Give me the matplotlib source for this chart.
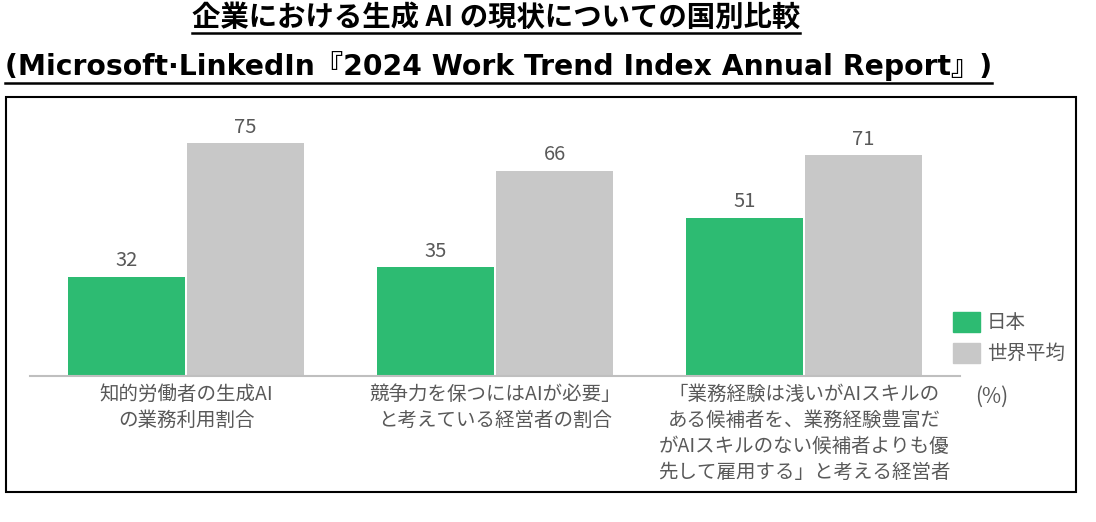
import numpy as np
import matplotlib
matplotlib.use("Agg")
import matplotlib.pyplot as plt
from matplotlib.patches import Rectangle
from matplotlib.lines import Line2D

plt.rcParams['font.family'] = ['Noto Sans CJK JP', 'DejaVu Sans']

# data
categories = ["知的労働者の生成AI\nの業務利用割合",
              "競争力を保つにはAIが必要」\nと考えている経営者の割合",
              "「業務経験は浅いがAIスキルの\nある候補者を、業務経験豊富だ\nがAIスキルのない候補者よりも優\n先して雇用する」と考える経営者"]
japan = [32, 35, 51]
world = [75, 66, 71]
series_names = ["日本", "世界平均"]

title1 = "企業における生成 AI の現状についての国別比較"
title2 = "(Microsoft·LinkedIn『2024 Work Trend Index Annual Report』)"

GREEN = "#2dbb72"
GRAY = "#c8c8c8"
TXT = "#595959"

W, H = 1096, 522
fig = plt.figure(figsize=(W / 100, H / 100), dpi=100)

# outer frame
fig.add_artist(Rectangle((6 / W, 1 - 492 / H), 1070 / W, 395 / H,
                         transform=fig.transFigure, fill=False,
                         edgecolor="black", linewidth=1.5))

ax = fig.add_axes([30 / W, (H - 376) / H, 930 / W, 264 / H])
x = np.arange(len(categories))
bw = 0.38
off = 0.193
b1 = ax.bar(x - off, japan, bw, color=GREEN, label=series_names[0])
b2 = ax.bar(x + off, world, bw, color=GRAY, label=series_names[1])
for bars in (b1, b2):
    for b in bars:
        ax.annotate(str(int(b.get_height())),
                    (b.get_x() + b.get_width() / 2, b.get_height()),
                    xytext=(0, 4), textcoords="offset points",
                    ha="center", va="bottom", fontsize=14.5, color=TXT)

ax.set_xlim(-0.505, 2.505)
ax.set_ylim(0, 85)
ax.set_yticks([])
ax.set_xticks(x)
ax.set_xticklabels(categories, fontsize=14, color=TXT, linespacing=1.3,
                   va="top")
ax.tick_params(axis="x", length=0, pad=6)
for s in ["top", "right", "left"]:
    ax.spines[s].set_visible(False)
ax.spines["bottom"].set_color("#bfbfbf")
ax.spines["bottom"].set_linewidth(1.5)

# legend drawn by hand to the right of the plot
for i, (name, col) in enumerate(zip(series_names, [GREEN, GRAY])):
    y0 = 312 + i * 31
    fig.add_artist(Rectangle((953 / W, 1 - (y0 + 20) / H), 27 / W, 20 / H,
                             transform=fig.transFigure, color=col))
    fig.text(987 / W, 1 - (y0 + 10) / H, name, fontsize=14, color=TXT,
             va="center", ha="left")
fig.text(975 / W, 1 - 397 / H, "(%)", fontsize=15, color=TXT,
         va="center", ha="left")

t1 = fig.text(496 / W, 1 - 18 / H, title1, fontsize=20, fontweight="bold",
              ha="center", va="center")
t2 = fig.text(5 / W, 1 - 66 / H, title2, fontsize=19, fontweight="bold",
              ha="left", va="center",
              family=['DejaVu Sans', 'Noto Sans CJK JP'])

# fit title widths to the reference, then underline them
fig.canvas.draw()
r = fig.canvas.get_renderer()
for t, target in ((t1, 608), (t2, 983)):
    bb = t.get_window_extent(r)
    t.set_fontsize(t.get_fontsize() * target / bb.width)
fig.canvas.draw()
for t, uy in ((t1, 33), (t2, 83)):
    bb = t.get_window_extent(r)
    fig.add_artist(Line2D([bb.x0 / W, bb.x1 / W], [1 - uy / H, 1 - uy / H],
                          transform=fig.transFigure, color="black",
                          linewidth=1.8))

fig.savefig("out.png", dpi=100)
